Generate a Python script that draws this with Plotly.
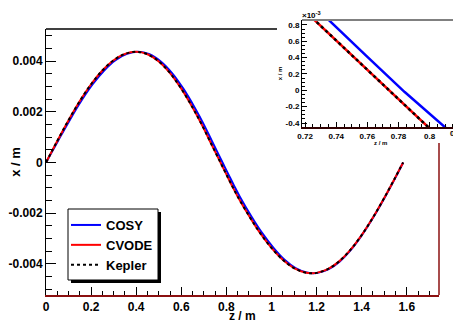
import plotly.graph_objects as go

# ---- data (z in m, x in m) ----
z_cvode = [0, 0.05, 0.10, 0.15, 0.20, 0.25, 0.30, 0.35, 0.40, 0.45, 0.50, 0.55, 0.60, 0.65,
           0.675, 0.70, 0.725, 0.75, 0.775, 0.80, 0.825, 0.85, 0.90, 0.95, 1.00, 1.05, 1.10,
           1.15, 1.18, 1.20, 1.25, 1.30, 1.35, 1.40, 1.45, 1.50, 1.55, 1.584]
x_cvode = [0.0, 0.000852, 0.001672, 0.002428, 0.003090, 0.003632, 0.004037, 0.004286,
           0.004370, 0.004274, 0.003990, 0.003531, 0.002915, 0.002175, 0.001765, 0.001336,
           0.000879, 0.000429, -0.000021, -0.000470, -0.000915, -0.001340, -0.002100,
           -0.002790, -0.003370, -0.003840, -0.004170, -0.004345, -0.004370, -0.004357,
           -0.004209, -0.003903, -0.003449, -0.002866, -0.002174, -0.001401, -0.000576, 0.0]

z_kepler = list(z_cvode)
x_kepler = list(x_cvode)

z_cosy = [0, 0.053, 0.105, 0.156, 0.207, 0.258, 0.308, 0.359, 0.409, 0.459, 0.509, 0.559,
          0.609, 0.659, 0.684, 0.709, 0.734, 0.759, 0.784, 0.809, 0.834, 0.859, 0.909, 0.959,
          1.009, 1.058, 1.107, 1.156, 1.186, 1.205, 1.254, 1.303, 1.352, 1.401, 1.451, 1.501,
          1.551, 1.584]
x_cosy = list(x_cvode)

main_xticks = [0, 0.2, 0.4, 0.6, 0.8, 1.0, 1.2, 1.4, 1.6]
main_xtext = ["0", "0.2", "0.4", "0.6", "0.8", "1", "1.2", "1.4", "1.6"]
main_yticks = [-0.004, -0.002, 0, 0.002, 0.004]
main_ytext = ["-0.004", "-0.002", "0", "0.002", "0.004"]
inset_xticks = [0.72, 0.74, 0.76, 0.78, 0.80]
inset_xtext = ["0.72", "0.74", "0.76", "0.78", "0.8"]
inset_yticks = [-0.0004, -0.0002, 0, 0.0002, 0.0004, 0.0006, 0.0008]
inset_ytext = ["-0.4", "-0.2", "0", "0.2", "0.4", "0.6", "0.8"]

W, H = 461, 322
OFF = 8  # page body margin
def px(x):
    return (x - OFF) / W
def py(y):
    return (H - (y - OFF)) / H

FONT = "Liberation Sans, Arial, Helvetica, sans-serif"
DARKRED = "#8b1010"

fig = go.Figure()

# main plot
fig.add_trace(go.Scatter(x=z_cosy, y=x_cosy, mode="lines", name="COSY",
                         line=dict(color="#0000ff", width=2, shape="spline"),
                         xaxis="x", yaxis="y"))
fig.add_trace(go.Scatter(x=z_cvode, y=x_cvode, mode="lines", name="CVODE",
                         line=dict(color="#ff0000", width=2, shape="spline"),
                         xaxis="x", yaxis="y"))
fig.add_trace(go.Scatter(x=z_kepler, y=x_kepler, mode="lines", name="Kepler",
                         line=dict(color="#000000", width=2, dash="3px,3px", shape="spline"),
                         xaxis="x", yaxis="y"))
# inset
fig.add_trace(go.Scatter(x=z_cosy, y=x_cosy, mode="lines", showlegend=False,
                         line=dict(color="#0000ff", width=2.5),
                         xaxis="x2", yaxis="y2"))
fig.add_trace(go.Scatter(x=z_cvode, y=x_cvode, mode="lines", showlegend=False,
                         line=dict(color="#ff0000", width=2.5),
                         xaxis="x2", yaxis="y2"))
fig.add_trace(go.Scatter(x=z_kepler, y=x_kepler, mode="lines", showlegend=False,
                         line=dict(color="#000000", width=2.5, dash="3px,3px"),
                         xaxis="x2", yaxis="y2"))

tickfont = dict(family=FONT, size=12, color="black", weight="bold")
smallfont = dict(family=FONT, size=8, color="black", weight="bold")

fig.update_layout(
    width=W, height=H,
    margin=dict(l=0, r=0, t=0, b=0, autoexpand=False),
    paper_bgcolor="white", plot_bgcolor="white",
    showlegend=True,
    legend=dict(x=px(66), y=py(210), xanchor="left", yanchor="top",
                bgcolor="rgba(0,0,0,0)", borderwidth=0,
                font=dict(family=FONT, size=13, color="black", weight="bold"),
                tracegroupgap=0, itemwidth=30),
    xaxis=dict(domain=[px(46), px(439)], range=[0, 1.743], anchor="y", automargin=False,
               showgrid=False, zeroline=False, showline=True, linecolor=DARKRED, linewidth=1.5,
               ticks="inside", ticklen=8, tickcolor="black", tickwidth=1,
               tickvals=main_xticks, ticktext=main_xtext, tickfont=tickfont,
               minor=dict(dtick=0.05, ticks="inside", ticklen=4, tickcolor="black", showgrid=False)),
    yaxis=dict(domain=[py(295), py(29)], range=[-0.00523, 0.00527], anchor="x", automargin=False,
               showgrid=False, zeroline=False, showline=True, linecolor="black", linewidth=1,
               ticks="inside", ticklen=10, tickcolor="black", tickwidth=1,
               tickvals=main_yticks, ticktext=main_ytext, tickfont=tickfont,
               minor=dict(dtick=0.0005, ticks="inside", ticklen=6, tickcolor="black", showgrid=False),
               title=dict(text="x / m", font=dict(family=FONT, size=13, color="black", weight="bold"),
                          standoff=4)),
    xaxis2=dict(domain=[px(302), px(457)], range=[0.718, 0.8176], anchor="y2", automargin=False,
                showgrid=False, zeroline=False, showline=True, linecolor="#300000", linewidth=2,
                ticks="inside", ticklen=5, tickcolor="black", tickwidth=1,
                tickvals=inset_xticks, ticktext=inset_xtext, tickfont=smallfont,
                minor=dict(dtick=0.005, ticks="inside", ticklen=3, tickcolor="black", showgrid=False)),
    yaxis2=dict(domain=[py(127), py(20)], range=[-0.000449, 0.000861], anchor="x2", automargin=False,
                showgrid=False, zeroline=False, showline=True, linecolor="black", linewidth=1,
                ticks="inside", ticklen=5, tickcolor="black", tickwidth=1,
                tickvals=inset_yticks, ticktext=inset_ytext, tickfont=smallfont,
                minor=dict(dtick=0.00005, ticks="inside", ticklen=3, tickcolor="black", showgrid=False),
                title=dict(text="x / m", font=dict(family=FONT, size=6, color="black", weight="bold"),
                           standoff=2)),
)

shapes = [
    # main frame top (visible part) and right (below inset)
    dict(type="line", xref="paper", yref="paper", x0=px(46), x1=px(277), y0=py(29), y1=py(29),
         line=dict(color="black", width=1.3)),
    dict(type="line", xref="paper", yref="paper", x0=px(439), x1=px(439), y0=py(143), y1=py(295),
         line=dict(color=DARKRED, width=1.5)),
    # inset frame top/right (grey)
    dict(type="line", xref="paper", yref="paper", x0=px(302), x1=px(457), y0=py(20), y1=py(20),
         line=dict(color="#808080", width=2)),
    dict(type="line", xref="paper", yref="paper", x0=px(457), x1=px(457), y0=py(20), y1=py(127),
         line=dict(color="#808080", width=2)),
    # legend box: drop shadow, then white framed box
    dict(type="rect", xref="paper", yref="paper", x0=px(71), x1=px(161), y0=py(283), y1=py(212),
         line=dict(width=0), fillcolor="black", layer="above"),
    dict(type="rect", xref="paper", yref="paper", x0=px(68), x1=px(158), y0=py(280), y1=py(209),
         line=dict(width=1, color="black"), fillcolor="white", layer="above"),
]
fig.update_layout(shapes=shapes)

fig.add_annotation(xref="paper", yref="paper", x=px(242), y=py(316), xanchor="center", yanchor="middle",
                   text="z / m", showarrow=False,
                   font=dict(family=FONT, size=12, color="black", weight="bold"))
fig.add_annotation(xref="paper", yref="paper", x=px(380), y=py(143), xanchor="center", yanchor="middle",
                   text="z / m", showarrow=False,
                   font=dict(family=FONT, size=6, color="black", weight="bold"))
fig.add_annotation(xref="paper", yref="paper", x=px(300), y=py(15), xanchor="left", yanchor="middle",
                   text="×10<sup>-3</sup>", showarrow=False,
                   font=dict(family=FONT, size=8, color="black", weight="bold"))
fig.add_annotation(xref="paper", yref="paper", x=px(458), y=py(133), xanchor="center", yanchor="middle",
                   text="0.82", showarrow=False, font=smallfont)

fig.write_html("out.html")
